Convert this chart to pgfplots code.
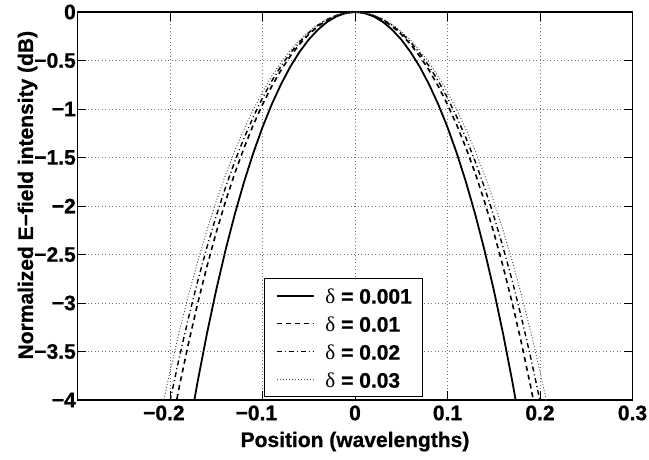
\documentclass[border=0pt]{standalone}
\usepackage{fontspec}
\setmainfont{Liberation Sans}[BoldFeatures={FakeBold=0.8}]
\newfontfamily\deltafont{Liberation Serif}
\usepackage{pgfplots}
\pgfplotsset{compat=1.18}
\begin{document}
\begin{tikzpicture}[font=\fontsize{21bp}{25bp}\selectfont\bfseries]
\useasboundingbox (-77.5bp,-60bp) rectangle (571.5bp,400bp);
\begin{axis}[
  scale only axis, width=555bp, height=388bp,
  xmin=-0.3, xmax=0.3, ymin=-4, ymax=0,
  xtick={-0.2,-0.1,0,0.1,0.2,0.3},
  xticklabels={\llap{−}0.2,\llap{−}0.1,0,0.1,0.2,0.3},
  ytick={-4,-3.5,-3,-2.5,-2,-1.5,-1,-0.5,0},
  yticklabels={−4,−3.5,−3,−2.5,−2,−1.5,−1,−0.5,0},
  tick align=inside, tick pos=both, major tick length=9bp,
  every tick/.style={black, line width=0.9bp},
  grid=major,
  major grid style={black!55, line width=0.6bp, dash pattern=on 1bp off 2.5bp},
  axis line style={line width=1.3bp},
  xticklabel style={yshift=-2bp},
  yticklabel style={inner xsep=1.5bp},
  xlabel={Position (wavelengths)},
  ylabel={Normalized E−field intensity (dB)},
  xlabel style={at={(axis description cs:0.5,0)}, anchor=base, yshift=-47bp},
  ylabel style={at={(axis description cs:-0.0802,0.528)}, anchor=base},
  legend style={at={(axis description cs:0.336,0.3144)}, anchor=north west,
    draw=black, line width=1.3bp, fill=white, inner xsep=11bp, inner ysep=3bp,
    row sep=0pt, column sep=11bp,
    nodes={inner xsep=0bp, inner ysep=4bp, text height=18bp, text depth=2bp}},
  legend cell align=left,
  legend image code/.code={\draw[#1] (0bp,0bp) -- (37bp,0bp);},
]
\addplot[black, line width=1.8bp] table {
x y
-0.18 -4.34
-0.17 -3.805
-0.16 -3.313
-0.15 -2.864
-0.14 -2.456
-0.13 -2.087
-0.12 -1.754
-0.11 -1.455
-0.10 -1.188
-0.09 -0.952
-0.08 -0.745
-0.07 -0.565
-0.06 -0.412
-0.05 -0.284
-0.04 -0.181
-0.03 -0.101
-0.02 -0.045
-0.01 -0.011
0 0
0.01 -0.011
0.02 -0.045
0.03 -0.101
0.04 -0.181
0.05 -0.284
0.06 -0.412
0.07 -0.565
0.08 -0.745
0.09 -0.952
0.10 -1.188
0.11 -1.455
0.12 -1.754
0.13 -2.087
0.14 -2.456
0.15 -2.864
0.16 -3.313
0.17 -3.805
0.18 -4.34
};
\addlegendentry{{\deltafont\mdseries δ} = 0.001}
\addplot[black, line width=1.6bp, dash pattern=on 5bp off 4bp] table {
x y
-0.20 -4.353
-0.19 -3.865
-0.18 -3.415
-0.17 -3.001
-0.16 -2.621
-0.15 -2.272
-0.14 -1.954
-0.13 -1.664
-0.12 -1.402
-0.11 -1.165
-0.10 -0.954
-0.09 -0.766
-0.08 -0.600
-0.07 -0.456
-0.06 -0.333
-0.05 -0.230
-0.04 -0.147
-0.03 -0.082
-0.02 -0.036
-0.01 -0.009
0 0
0.01 -0.009
0.02 -0.036
0.03 -0.082
0.04 -0.147
0.05 -0.230
0.06 -0.333
0.07 -0.456
0.08 -0.600
0.09 -0.766
0.10 -0.954
0.11 -1.165
0.12 -1.402
0.13 -1.664
0.14 -1.954
0.15 -2.272
0.16 -2.621
0.17 -3.001
0.18 -3.415
0.19 -3.865
0.20 -4.353
};
\addlegendentry{{\deltafont\mdseries δ} = 0.01}
\addplot[black, line width=1.4bp, dash pattern=on 5bp off 3bp on 1bp off 3bp] table {
x y
-0.21 -4.491
-0.20 -4.010
-0.19 -3.564
-0.18 -3.152
-0.17 -2.772
-0.16 -2.423
-0.15 -2.102
-0.14 -1.809
-0.13 -1.542
-0.12 -1.300
-0.11 -1.082
-0.10 -0.886
-0.09 -0.711
-0.08 -0.558
-0.07 -0.424
-0.06 -0.310
-0.05 -0.214
-0.04 -0.136
-0.03 -0.077
-0.02 -0.034
-0.01 -0.008
0 0
0.01 -0.008
0.02 -0.034
0.03 -0.077
0.04 -0.136
0.05 -0.214
0.06 -0.310
0.07 -0.424
0.08 -0.558
0.09 -0.711
0.10 -0.886
0.11 -1.082
0.12 -1.300
0.13 -1.542
0.14 -1.809
0.15 -2.102
0.16 -2.423
0.17 -2.772
0.18 -3.152
0.19 -3.564
0.20 -4.010
0.21 -4.491
};
\addlegendentry{{\deltafont\mdseries δ} = 0.02}
\addplot[black!70, line width=0.9bp, dash pattern=on 1bp off 2bp] table {
x y
-0.21 -4.147
-0.20 -3.706
-0.19 -3.297
-0.18 -2.918
-0.17 -2.569
-0.16 -2.247
-0.15 -1.951
-0.14 -1.680
-0.13 -1.433
-0.12 -1.209
-0.11 -1.007
-0.10 -0.825
-0.09 -0.663
-0.08 -0.520
-0.07 -0.396
-0.06 -0.289
-0.05 -0.200
-0.04 -0.127
-0.03 -0.071
-0.02 -0.032
-0.01 -0.008
0 0
0.01 -0.008
0.02 -0.032
0.03 -0.071
0.04 -0.127
0.05 -0.200
0.06 -0.289
0.07 -0.396
0.08 -0.520
0.09 -0.663
0.10 -0.825
0.11 -1.007
0.12 -1.209
0.13 -1.433
0.14 -1.680
0.15 -1.951
0.16 -2.247
0.17 -2.569
0.18 -2.918
0.19 -3.297
0.20 -3.706
0.21 -4.147
};
\addlegendentry{{\deltafont\mdseries δ} = 0.03}
\end{axis}
\end{tikzpicture}
\end{document}
